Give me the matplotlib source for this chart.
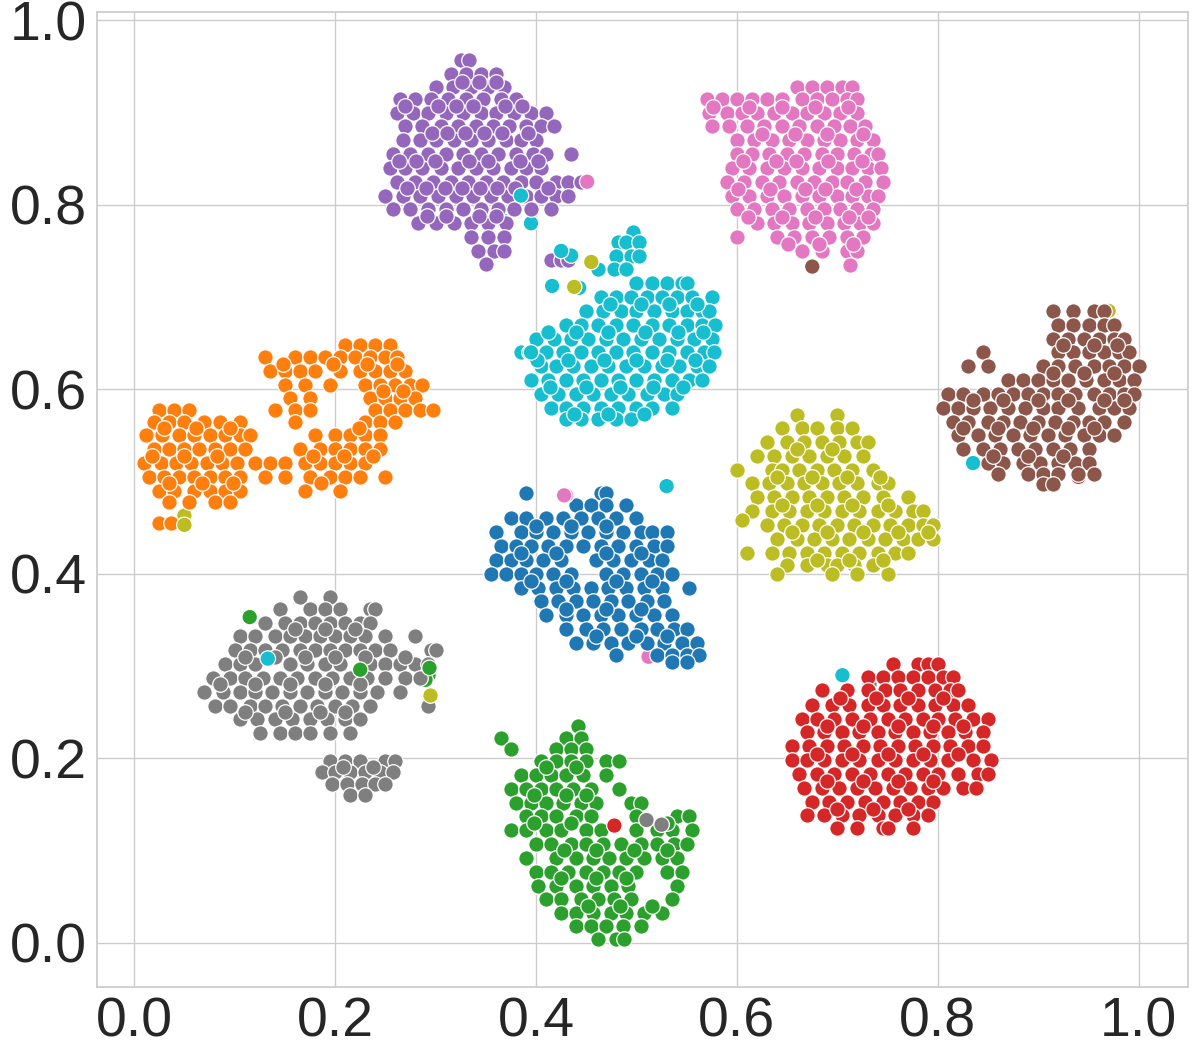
import matplotlib
matplotlib.use("Agg")
import matplotlib.pyplot as plt

purple_rows = [
    (.957, [.325, .333]),
    (.942, [.315, .33, .345, .36]),
    (.928, [.30, .317, .335, .352, .368]),
    (.915, [.265, .28, .295, .312, .33, .347, .365, .38]),
    (.900, [.262, .278, .292, .31, .327, .345, .36, .378, .395, .41]),
    (.885, [.27, .287, .305, .322, .34, .357, .373, .39, .405, .418]),
    (.870, [.268, .285, .30, .318, .335, .352, .37, .385, .40]),
    (.855, [.258, .275, .292, .31, .327, .345, .362, .38, .397, .41, .435]),
    (.840, [.255, .27, .287, .305, .322, .34, .357, .375, .39, .405]),
    (.825, [.262, .28, .297, .315, .332, .35, .367, .385, .40, .42, .432, .445]),
    (.810, [.25, .268, .285, .302, .32, .337, .355, .372, .39, .405, .42, .432]),
    (.795, [.258, .275, .292, .31, .327, .345, .362, .378, .395, .415]),
    (.780, [.283, .30, .318, .335, .352, .37]),
    (.765, [.335, .352, .368]),
    (.750, [.342, .358, .368]),
    (.740, [.415, .425, .432]),
    (.736, [.35]),
    (.933, [.326, .343, .36]),
    (.907, [.27, .302, .32, .337, .369, .386]),
    (.878, [.296, .311, .329, .348, .366, .392]),
    (.848, [.264, .281, .299, .333, .352, .384, .402]),
    (.818, [.272, .29, .309, .326, .344, .361, .379, .412]),
    (.788, [.291, .31, .343, .36]),
]
pink_rows = [
    (.928, [.66, .675, .69, .705, .715]),
    (.915, [.57, .585, .60, .615, .63, .645, .665, .68, .695, .71, .72]),
    (.900, [.572, .59, .605, .62, .637, .655, .67, .687, .703, .72]),
    (.885, [.575, .592, .61, .627, .645, .662, .68, .697, .713, .727]),
    (.870, [.60, .617, .635, .652, .67, .687, .703, .72, .735]),
    (.855, [.60, .615, .632, .65, .667, .685, .70, .717, .733, .74]),
    (.840, [.595, .612, .63, .647, .665, .682, .70, .715, .73, .743]),
    (.825, [.59, .607, .625, .642, .66, .677, .695, .71, .727, .745]),
    (.810, [.595, .612, .63, .647, .665, .682, .70, .715, .73, .74]),
    (.795, [.60, .617, .635, .652, .67, .687, .703, .72, .735]),
    (.780, [.62, .637, .655, .672, .69, .707, .723, .735]),
    (.765, [.60, .64, .657, .675, .692, .71, .725]),
    (.750, [.665, .685, .71, .72]),
    (.735, [.713]),
    (.906, [.576, .612, .645, .678, .711]),
    (.877, [.625, .658, .69, .725]),
    (.847, [.606, .639, .659, .691, .724]),
    (.817, [.601, .633, .668, .688, .719]),
    (.787, [.611, .645, .678, .712, .73]),
    (.757, [.651, .682, .716]),
]
cyan_rows = [
    (.770, [.497]),
    (.760, [.482, .49, .503]),
    (.745, [.48, .495, .503]),
    (.730, [.462, .478, .49]),
    (.715, [.50, .515, .53, .545, .55]),
    (.700, [.465, .48, .495, .51, .525, .54, .555, .575]),
    (.685, [.45, .467, .485, .50, .517, .535, .55, .565, .572]),
    (.670, [.43, .445, .462, .48, .497, .515, .532, .55, .565, .578]),
    (.655, [.40, .418, .435, .452, .47, .487, .505, .522, .54, .557, .575]),
    (.640, [.385, .393, .41, .427, .445, .462, .48, .497, .515, .532, .55, .567, .577]),
    (.625, [.405, .42, .437, .455, .472, .49, .507, .525, .542, .56, .572]),
    (.610, [.395, .412, .43, .447, .465, .482, .50, .517, .535, .552, .565]),
    (.595, [.405, .422, .44, .457, .475, .492, .51, .527, .54]),
    (.580, [.415, .43, .447, .465, .482, .50, .515, .535]),
    (.568, [.43, .445, .462, .48, .495]),
    (.692, [.474, .505, .532, .56]),
    (.662, [.412, .44, .472, .508, .541, .566]),
    (.632, [.401, .432, .468, .5, .53, .558]),
    (.602, [.414, .45, .484, .516, .546]),
    (.573, [.438, .472, .507]),
]
orange_rows = [
    (.648, [.21, .225, .24, .255]),
    (.635, [.13, .16, .175, .19, .205, .22, .235, .25, .262]),
    (.620, [.135, .15, .165, .18, .205, .225, .24, .255, .27]),
    (.605, [.15, .17, .195, .23, .245, .26, .275, .287]),
    (.590, [.155, .175, .235, .25, .265, .28]),
    (.577, [.025, .04, .055, .14, .16, .175, .24, .255, .27, .285, .297]),
    (.565, [.02, .035, .05, .07, .085, .105, .16, .23, .245, .26]),
    (.550, [.012, .028, .045, .06, .075, .09, .105, .115, .18, .20, .215, .23, .245]),
    (.535, [.02, .035, .05, .065, .08, .095, .11, .165, .185, .20, .215, .23, .245]),
    (.520, [.01, .027, .042, .057, .072, .087, .102, .12, .135, .15, .17, .185, .20, .215, .23]),
    (.505, [.015, .03, .045, .06, .075, .09, .105, .13, .15, .175, .195, .21, .225, .25]),
    (.490, [.025, .04, .06, .075, .09, .105, .17, .205]),
    (.478, [.035, .055, .08, .095]),
    (.455, [.025, .037]),
    (.627, [.148, .198, .232, .262]),
    (.598, [.248, .268]),
    (.558, [.03, .062, .095, .224]),
    (.528, [.018, .05, .082, .178, .209, .238]),
    (.498, [.035, .068, .098, .186]),
]
green_rows = [
    (.235, [.442]),
    (.222, [.365, .43, .445]),
    (.210, [.375, .42, .435, .45]),
    (.197, [.405, .42, .435, .45, .47, .483]),
    (.182, [.385, .40, .415, .43, .447, .47]),
    (.167, [.375, .39, .405, .42, .437, .455, .483]),
    (.152, [.38, .395, .41, .427, .445, .46, .495, .505]),
    (.137, [.39, .405, .42, .44, .455, .50, .54, .552]),
    (.122, [.375, .39, .41, .425, .45, .465, .50, .52, .535, .555]),
    (.107, [.40, .415, .435, .45, .467, .485, .505, .52, .537, .55]),
    (.092, [.39, .42, .44, .457, .473, .49, .507, .525, .54]),
    (.077, [.40, .415, .432, .45, .467, .483, .50, .53, .545]),
    (.062, [.402, .42, .44, .457, .475, .492, .54]),
    (.047, [.41, .425, .445, .462, .478, .495, .535]),
    (.032, [.425, .44, .457, .475, .49, .507, .525]),
    (.018, [.44, .455, .47, .487, .505]),
    (.004, [.462, .48, .488]),
    (.19, [.41, .44]),
    (.16, [.398, .43, .45]),
    (.13, [.398, .435, .53]),
    (.1, [.428, .46, .498, .53]),
    (.07, [.425, .46, .49]),
    (.04, [.452, .484, .515]),
]
gray_rows = [
    (.375, [.165, .195]),
    (.362, [.145, .175, .19, .205, .235, .24]),
    (.347, [.13, .15, .165, .18, .195, .21, .225, .235]),
    (.332, [.105, .12, .14, .155, .17, .185, .20, .215, .23, .25, .28]),
    (.317, [.10, .115, .13, .147, .165, .18, .195, .21, .225, .24, .255, .295, .30]),
    (.302, [.09, .105, .12, .155, .172, .19, .205, .235, .25, .265, .28, .292]),
    (.287, [.078, .095, .11, .128, .145, .162, .18, .197, .215, .232, .25, .27, .285]),
    (.272, [.07, .088, .105, .12, .137, .155, .172, .19, .207, .225, .242, .265]),
    (.257, [.08, .095, .115, .13, .147, .165, .182, .20, .217, .235, .292]),
    (.242, [.105, .122, .14, .157, .175, .192, .21, .225]),
    (.227, [.125, .145, .16, .175, .195, .215]),
    (.197, [.195, .21, .225, .25, .26]),
    (.185, [.187, .20, .215, .23, .245, .258]),
    (.172, [.197, .212, .227, .24, .25]),
    (.160, [.215, .23]),
    (.34, [.16, .19, .22]),
    (.31, [.11, .14, .17, .2, .23, .27]),
    (.28, [.085, .12, .155, .19, .225]),
    (.25, [.11, .15, .185, .21]),
    (.19, [.208, .238]),
]
red_rows = [
    (.302, [.755, .78, .79, .80]),
    (.288, [.73, .745, .76, .775, .79, .805, .815]),
    (.274, [.685, .71, .73, .747, .762, .78, .797, .812, .82]),
    (.258, [.675, .695, .712, .73, .745, .762, .78, .797, .815, .83]),
    (.243, [.665, .68, .697, .715, .732, .75, .767, .785, .80, .817, .835, .85]),
    (.228, [.67, .687, .705, .722, .74, .757, .775, .792, .81, .827, .845]),
    (.213, [.655, .672, .69, .707, .725, .742, .76, .777, .795, .812, .83, .845]),
    (.198, [.655, .67, .687, .705, .722, .74, .757, .775, .792, .81, .835, .853]),
    (.183, [.662, .68, .697, .715, .732, .75, .767, .785, .80, .82, .84, .85]),
    (.168, [.667, .685, .702, .72, .737, .755, .772, .79, .805, .825, .838]),
    (.153, [.675, .692, .71, .727, .745, .762, .78, .795]),
    (.138, [.67, .687, .705, .722, .74, .757, .775, .79]),
    (.124, [.70, .72, .745, .75, .775]),
    (.265, [.703, .738, .77, .805]),
    (.235, [.69, .725, .76, .795, .825]),
    (.205, [.68, .715, .75, .785, .82]),
    (.175, [.69, .725, .76, .795]),
    (.145, [.7, .735, .77]),
]
brown_rows = [
    (.685, [.915, .935, .955, .965]),
    (.670, [.92, .935, .95, .965, .975]),
    (.655, [.915, .93, .945, .96, .975, .985]),
    (.640, [.845, .92, .935, .95, .965, .98, .99]),
    (.625, [.83, .85, .905, .92, .937, .955, .97, .985, 1.0]),
    (.610, [.87, .885, .90, .915, .93, .947, .965, .98, .995]),
    (.595, [.81, .825, .845, .86, .875, .89, .905, .92, .937, .955, .97, .985, .995]),
    (.580, [.805, .82, .835, .852, .87, .887, .905, .92, .94, .96, .975, .99]),
    (.565, [.815, .83, .85, .865, .882, .90, .917, .935, .95, .965, .985]),
    (.550, [.82, .84, .857, .875, .892, .91, .927, .945, .96, .975]),
    (.535, [.825, .845, .862, .88, .897, .915, .932, .95]),
    (.520, [.85, .865, .885, .902, .92, .937, .95]),
    (.508, [.86, .89, .905, .92, .94, .955]),
    (.497, [.905, .915]),
    (.648, [.925, .955, .978]),
    (.618, [.915, .945, .975]),
    (.588, [.835, .865, .9, .93, .965, .985]),
    (.558, [.825, .86, .895, .93, .955]),
    (.528, [.855, .89, .925]),
]
olive_rows = [
    (.572, [.66, .70]),
    (.558, [.645, .665, .68, .70, .715]),
    (.543, [.63, .65, .667, .685, .702, .72, .73]),
    (.528, [.62, .637, .655, .672, .69, .707, .725]),
    (.513, [.60, .635, .645, .662, .68, .697, .715, .735]),
    (.498, [.615, .632, .65, .667, .685, .702, .72, .74, .75]),
    (.483, [.62, .637, .655, .672, .69, .707, .725, .745, .77]),
    (.468, [.615, .635, .652, .67, .687, .705, .722, .74, .757, .775, .785]),
    (.453, [.63, .647, .665, .682, .70, .717, .735, .752, .77, .785, .795]),
    (.458, [.605]),
    (.438, [.64, .66, .677, .695, .712, .73, .747, .765, .78, .795]),
    (.423, [.61, .635, .652, .67, .687, .705, .722, .74, .757, .77]),
    (.410, [.65, .67, .69, .70, .717, .735]),
    (.400, [.64, .695, .72, .75]),
    (.535, [.66, .695]),
    (.505, [.64, .675, .71, .742]),
    (.475, [.645, .68, .715, .75]),
    (.445, [.655, .69, .725, .76, .79]),
    (.415, [.68, .712, .745]),
]
blue_rows = [
    (.488, [.39, .465, .47]),
    (.475, [.44, .455, .47, .49]),
    (.460, [.375, .39, .41, .427, .445, .462, .48, .50]),
    (.445, [.36, .385, .40, .417, .435, .452, .47, .487, .505, .515, .53]),
    (.430, [.365, .38, .395, .412, .43, .447, .465, .482, .50, .517, .53]),
    (.415, [.36, .375, .39, .407, .425, .46, .477, .495, .512, .525]),
    (.400, [.355, .37, .385, .40, .417, .435, .47, .487, .505, .52, .535]),
    (.385, [.385, .402, .42, .437, .455, .472, .49, .507, .525, .552]),
    (.370, [.405, .422, .44, .457, .475, .492, .51, .527]),
    (.355, [.41, .43, .447, .465, .482, .50, .517, .535]),
    (.340, [.43, .45, .467, .485, .505, .52, .537, .55]),
    (.325, [.44, .457, .475, .492, .51, .527, .545, .56]),
    (.312, [.48, .52, .535, .55, .562]),
    (.304, [.535, .55]),
    (.452, [.4, .435, .47]),
    (.422, [.385, .42, .47, .505]),
    (.392, [.395, .43, .48, .515]),
    (.362, [.43, .47, .505]),
    (.332, [.46, .5, .53]),
]

under_x = [.97, .94, .512, .05, .835, .293, .29, .365, .395, .732]
under_y = [.685, .505, .31, .463, .52, .29, .285, .785, .78, .28]
under_c = ['#bcbd22', '#d62728', '#e377c2', '#bcbd22', '#17becf', '#2ca02c', '#2ca02c',
           '#17becf', '#17becf', '#7f7f7f']
over_x = [.385, .451, .455, .443, .435, .43, .675, .53, .428, .478, .51, .525, .705,
          .115, .133, .225, .294, .295, .05, .425, .395, .416, .438]
over_y = [.81, .825, .738, .71, .745, .485, .733, .495, .485, .127, .133, .128, .29,
          .353, .308, .296, .298, .268, .453, .75, .64, .712, .711]
over_c = ['#17becf', '#e377c2', '#bcbd22', '#17becf', '#17becf', '#e377c2', '#8c564b',
          '#17becf', '#e377c2', '#d62728', '#7f7f7f', '#7f7f7f', '#17becf',
          '#2ca02c', '#17becf', '#2ca02c', '#2ca02c', '#bcbd22', '#bcbd22',
          '#17becf', '#17becf', '#17becf', '#bcbd22']
cluster_colors = ['#1f77b4', '#ff7f0e', '#2ca02c', '#d62728', '#9467bd', '#8c564b', '#e377c2',
                  '#7f7f7f', '#bcbd22', '#17becf']
cluster_rows = [blue_rows, orange_rows, green_rows, red_rows, purple_rows, brown_rows, pink_rows,
                gray_rows, olive_rows, cyan_rows]
tick_values = [0.0, 0.2, 0.4, 0.6, 0.8, 1.0]

plt.rcParams['font.family'] = ['Liberation Sans', 'DejaVu Sans']
fig = plt.figure(figsize=(12, 10.5), dpi=100)
ax = fig.add_axes([97 / 1200, 1 - 987 / 1050, 1091 / 1200, 975 / 1050])
ax.scatter(under_x, under_y, s=125, c=under_c, edgecolors='white', linewidths=0.9, zorder=3)
for rows, color in zip(cluster_rows, cluster_colors):
    xs = [x for y, row in rows for x in row]
    ys = [y for y, row in rows for x in row]
    ax.scatter(xs, ys, s=125, c=color, edgecolors='white', linewidths=0.9, zorder=3)
ax.scatter(over_x, over_y, s=125, c=over_c, edgecolors='white', linewidths=0.9, zorder=3)
ax.set_xlim(-0.037, 1.049)
ax.set_ylim(-0.048, 1.009)
ax.set_xticks(tick_values)
ax.set_yticks(tick_values)
ax.set_xticklabels([f'{v:.1f}' for v in tick_values])
ax.set_yticklabels([f'{v:.1f}' for v in tick_values])
ax.grid(True, color='#cccccc', linewidth=1, zorder=0)
ax.set_axisbelow(True)
ax.tick_params(length=0, labelsize=40, labelcolor='#262626', pad=7)
for s in ax.spines.values():
    s.set_color('#cccccc')
    s.set_linewidth(1.25)
fig.savefig('out.png', dpi=100, facecolor='white')
